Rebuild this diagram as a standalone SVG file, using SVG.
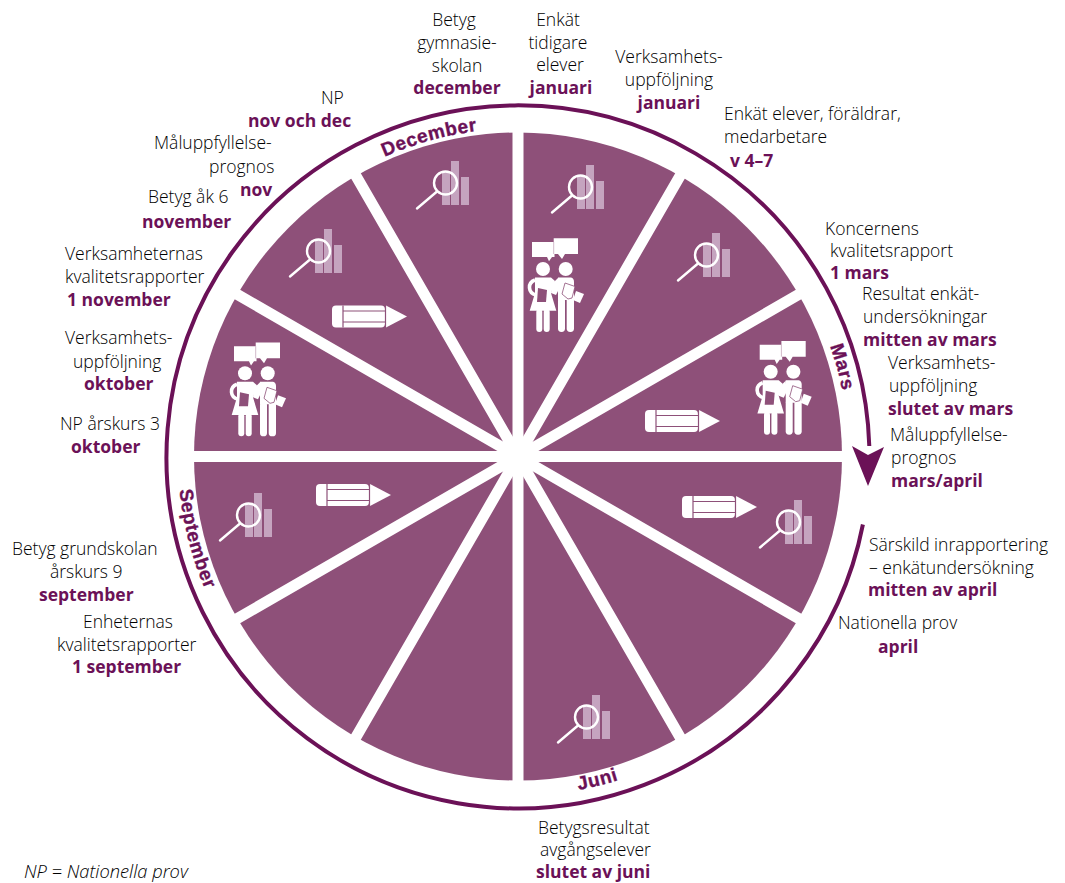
<svg xmlns="http://www.w3.org/2000/svg" width="1065" height="883" viewBox="0 0 1065 883">
<style>
text{font-family:"Open Sans","Noto Sans","Liberation Sans",sans-serif;font-size:17.5px;font-weight:300;fill:#000}
text.b{font-weight:700;font-size:17.5px;fill:#6b1157}
text.m{font-family:"Liberation Sans",Arial,sans-serif;font-weight:700;font-size:19px;letter-spacing:.6px;fill:#6b1157;stroke:#6b1157;stroke-width:.35}
.spoke{stroke:#fff;stroke-width:11;fill:none}
.bar{fill:#c5a4bf}
.w{fill:#fff}
.p{stroke:#8e5079;stroke-width:1.2;fill:none}
</style>
<defs>
<g id="mag">
<rect class="bar" x="0" y="-34" width="8" height="34"/>
<rect class="bar" x="9" y="-44" width="8" height="44"/>
<rect class="bar" x="19" y="-28" width="8" height="28"/>
<circle cx="3.5" cy="-22" r="11.5" fill="none" stroke="#fff" stroke-width="2.4"/>
<path d="M-5,-13.5L-25,3.5" stroke="#fff" stroke-width="2.4" stroke-linecap="round"/>
</g>
<g id="pencil">
<rect class="w" x="0" y="0" width="53" height="22" rx="4"/>
<path class="w" d="M54,0L75,11L54,22Z"/>
<path class="p" d="M11,0V22M11,5.5H53M11,16.5H53M53.5,0V22"/>
</g>
<g id="people">
<path class="w" d="M-11,-27H11.5V-12H9L6,-7.7L4,-12H-11Z"/>
<path class="w" d="M10.7,-30.7H35V-15H22L19,-10L15,-15H10.7Z"/>
<path d="M10.7,-27V-15" stroke="#8e5079" stroke-width=".4"/>
<circle class="w" cx="0" cy="0" r="7"/>
<circle class="w" cx="22.7" cy="0" r="7"/>
<path class="w" d="M-8,8.5H8L12,12L8,24L13.3,41.7H-13.3L-8,24Z"/>
<path d="M-8,11C-16,14-15,24-7,26" fill="none" stroke="#fff" stroke-width="3.6"/>
<rect class="w" x="-6.7" y="40" width="6" height="23" rx="3"/>
<rect class="w" x=".7" y="40" width="6" height="23" rx="3"/>
<path class="w" d="M15,8.5H28Q31,9 31,13V31H15Z"/>
<path class="w" d="M15,9L9,15L8,24L13,26L16,20Z"/>
<rect class="w" x="15" y="28" width="7" height="35" rx="3.4"/>
<rect class="w" x="23.7" y="28" width="7.3" height="35" rx="3.4"/>
<path d="M-5,19L4,21L3,33H-6Z" fill="#8e5079"/>
<path class="w" d="M33,22L41,25L37,34L30,31Z"/>
<path class="w" stroke="#8e5079" stroke-width=".8" d="M22,14L32,17.5L29,29L25,30L19,25Z"/>
</g>
<path id="pDec" d="M384.6,156.9A328,328 0 0 1 575,133.5"/>
<path id="pMar" d="M830,346A331,331 0 0 1 847.7,427.7"/>
<path id="pJun" d="M578.6,790A339,339 0 0 0 661.3,763.7"/>
<path id="pSep" d="M179.6,489.7A340,340 0 0 0 223.6,626.5"/>
</defs>
<g id="wheel">
<circle cx="518" cy="456.5" r="324" fill="#8e5079"/>
<g id="spokes">
<path class="spoke" d="M518,126V787M188,456.5H848"/>
<path class="spoke" d="M353,170.7L683,742.3M683,170.7L353,742.3"/>
<path class="spoke" d="M232.2,291.5L803.8,621.5M803.8,291.5L232.2,621.5"/>
</g>
</g>
<g id="ring">
<path d="M862.9,524.5A351.5,351.5 0 1 1 869.3,446" fill="none" stroke="#6b1157" stroke-width="4"/>
<path d="M852,446L868,455L884,447L868,486Z" fill="#6b1157"/>
</g>
<g id="icons">
<use href="#mag" x="577" y="209"/>
<use href="#mag" x="703" y="277"/>
<use href="#mag" x="785" y="544"/>
<use href="#mag" x="583" y="739"/>
<use href="#mag" x="442" y="205"/>
<use href="#mag" x="245" y="537"/>
<use href="#mag" x="315" y="273"/>
<use href="#pencil" x="645" y="410"/>
<use href="#pencil" x="682" y="496"/>
<use href="#pencil" x="316" y="484"/>
<use href="#pencil" x="332" y="305.5"/>
<use href="#people" x="770.7" y="371.7"/>
<use href="#people" x="543" y="269"/>
<use href="#people" x="245" y="373.3"/>
</g>
<g id="months">
<text class="m"><textPath href="#pDec">December</textPath></text>
<text class="m"><textPath href="#pMar">Mars</textPath></text>
<text class="m"><textPath href="#pJun">Juni</textPath></text>
<text class="m"><textPath href="#pSep">September</textPath></text>
</g>
<g id="labels">
<g id="n1" text-anchor="middle"><text x="454" y="26">Betyg</text><text x="457" y="49">gymnasie-</text><text x="457" y="72">skolan</text><text class="b" x="457" y="94">december</text></g>
<g id="n2" text-anchor="middle"><text x="558" y="26">Enkät</text><text x="558" y="49">tidigare</text><text x="560" y="71">elever</text><text class="b" x="561" y="94">januari</text></g>
<g id="n3" text-anchor="middle"><text x="669" y="63">Verksamhets-</text><text x="669" y="86">uppföljning</text><text class="b" x="669" y="109">januari</text></g>
<g id="n4"><text x="724" y="120">Enkät elever, föräldrar,</text><text x="724" y="143">medarbetare</text><text class="b" x="730" y="167">v 4–7</text></g>
<g id="n5"><text x="825" y="235">Koncernens</text><text x="830" y="257">kvalitetsrapport</text><text class="b" x="830" y="279">1 mars</text></g>
<g id="n6"><text x="862" y="300">Resultat enkät-</text><text x="863" y="323">undersökningar</text><text class="b" x="863" y="346">mitten av mars</text></g>
<g id="n7"><text x="888" y="369">Verksamhets-</text><text x="889" y="392">uppföljning</text><text class="b" x="888" y="415">slutet av mars</text></g>
<g id="n8"><text x="890" y="441">Måluppfyllelse-</text><text x="891" y="464">prognos</text><text class="b" x="891" y="487">mars/april</text></g>
<g id="n9"><text x="869" y="551">Särskild inrapportering</text><text x="869" y="574">– enkätundersökning</text><text class="b" x="868" y="596">mitten av april</text></g>
<g id="n10"><text x="838" y="629">Nationella prov</text><text class="b" x="878" y="653">april</text></g>
<g id="n11"><text x="538" y="834">Betygsresultat</text><text x="540" y="856">avgångselever</text><text class="b" x="536" y="878">slutet av juni</text></g>
<g id="n12"><text x="321" y="104">NP</text><text class="b" x="248" y="127">nov och dec</text></g>
<g id="n13"><text x="154" y="149">Måluppfyllelse-</text><text x="209" y="173">prognos</text><text class="b" x="240" y="196">nov</text></g>
<g id="n14"><text x="148" y="203">Betyg åk 6</text><text class="b" x="142" y="228">november</text></g>
<g id="n15"><text x="65" y="260">Verksamheternas</text><text x="65" y="283">kvalitetsrapporter</text><text class="b" x="67" y="306">1 november</text></g>
<g id="n16"><text x="65" y="344">Verksamhets-</text><text x="73" y="368">uppföljning</text><text class="b" x="84" y="390">oktober</text></g>
<g id="n17"><text x="60" y="430">NP årskurs 3</text><text class="b" x="71" y="453">oktober</text></g>
<g id="n18"><text x="12" y="555">Betyg grundskolan</text><text x="50" y="578">årskurs 9</text><text class="b" x="39" y="601">september</text></g>
<g id="n19"><text x="83" y="628">Enheternas</text><text x="57" y="651">kvalitetsrapporter</text><text class="b" x="72" y="673">1 september</text></g>
<text id="note" x="24" y="878" font-style="italic" style="font-size:18.3px">NP = Nationella prov</text>
</g>
</svg>
